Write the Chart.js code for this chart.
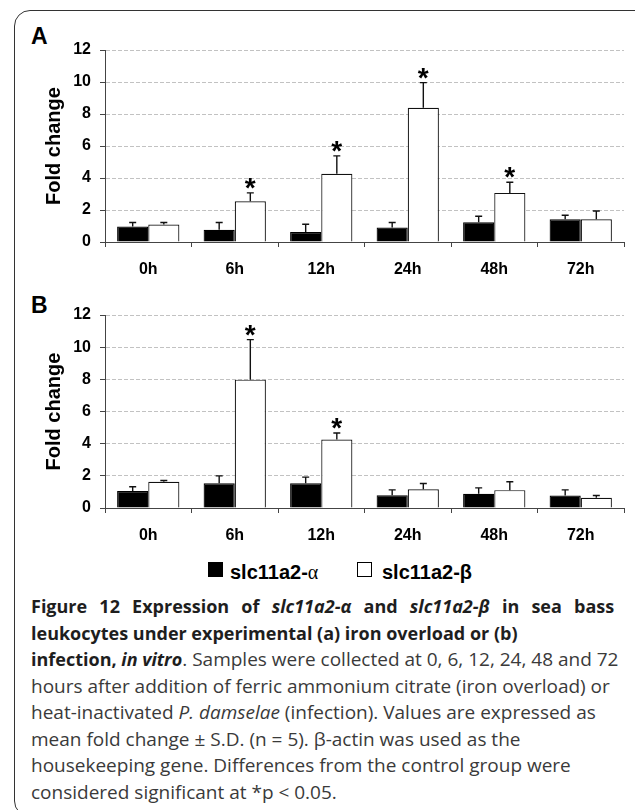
<!DOCTYPE html>
<html>
<head>
<meta charset="utf-8">
<script src="https://cdn.jsdelivr.net/npm/chart.js@4.4.1/dist/chart.umd.min.js"></script>
<style>
  body { margin: 0; background: #fff; width: 635px; height: 810px; overflow: hidden; position: relative; font-family: "Liberation Sans", Arial, sans-serif; }
  #frame { position: absolute; left: 14px; top: 10px; width: 700px; height: 805px; border: 1.5px solid #333; border-radius: 16px; }
  canvas { position: absolute; left: 0; }
  .tag { position: absolute; left: 31px; font: bold 23px "Liberation Sans", Arial, sans-serif; line-height: 22px; }
  .key { position: absolute; top: 562px; width: 15px; height: 15px; box-sizing: border-box; }
  .keytxt { position: absolute; top: 562px; font: bold 20px "Liberation Sans", Arial, sans-serif; line-height: 20px; white-space: nowrap; }
  .greek { font-family: "Liberation Serif", serif; font-weight: normal; }
  #caption { position: absolute; left: 31px; top: 593px; width: 620px; font: 19px "Open Sans", sans-serif; line-height: 26.5px; color: #3a3a3a; white-space: nowrap; }
  #caption b { color: #1e1e1e; font-size: 18px; }
  #caption .wide { word-spacing: 7.5px; }
</style>
</head>
<body>
<div id="frame"></div>
<div class="tag" style="top:25px">A</div>
<canvas id="chartA" width="635" height="285" style="top:0"></canvas>
<div class="tag" style="top:294px">B</div>
<canvas id="chartB" width="635" height="281" style="top:270px"></canvas>

<div class="key" style="left:208px;background:#000"></div>
<div class="keytxt" style="left:230px">slc11a2-<span class="greek">α</span></div>
<div class="key" style="left:357px;border:1px solid #000;background:#fff"></div>
<div class="keytxt" style="left:382px">slc11a2-β</div>

<div id="caption">
<b class="wide">Figure 12 Expression of <i>slc11a2-α</i> and <i>slc11a2-β</i> in sea bass</b><br>
<b>leukocytes under experimental (a) iron overload or (b)</b><br>
<b>infection, <i>in vitro</i></b>. Samples were collected at 0, 6, 12, 24, 48 and 72<br>
hours after addition of ferric ammonium citrate (iron overload) or<br>
heat-inactivated <i>P. damselae</i> (infection). Values are expressed as<br>
mean fold change ± S.D. (n = 5). β-actin was used as the<br>
housekeeping gene. Differences from the control group were<br>
considered significant at *p &lt; 0.05.
</div>

<script>
// sampling times
const hours = ['0h', '6h', '12h', '24h', '48h', '72h'];

// panel A - iron overload
const ironAlpha = [0.97, 0.76, 0.62, 0.91, 1.24, 1.42];
const ironAlphaSD = [0.25, 0.46, 0.49, 0.31, 0.37, 0.25];
const ironBeta = [1.09, 2.54, 4.27, 8.39, 3.07, 1.42];
const ironBetaSD = [0.13, 0.53, 1.11, 1.57, 0.66, 0.52];
const ironSig = [false, true, true, true, true, false];

// panel B - infection
const infAlpha = [1.05, 1.54, 1.54, 0.80, 0.88, 0.78];
const infAlphaSD = [0.27, 0.46, 0.38, 0.33, 0.37, 0.35];
const infBeta = [1.63, 7.98, 4.26, 1.17, 1.11, 0.63];
const infBetaSD = [0.08, 2.49, 0.40, 0.35, 0.52, 0.15];
const infSig = [false, true, true, false, false, false];

const yTicks = [0, 2, 4, 6, 8, 10, 12];

// whiskers (upper only) + significance stars
const errorBars = {
  id: 'errorBars',
  afterDatasetsDraw(chart) {
    const ctx = chart.ctx;
    const y = chart.scales.y;
    chart.data.datasets.forEach((ds, i) => {
      const meta = chart.getDatasetMeta(i);
      meta.data.forEach((bar, j) => {
        const top = y.getPixelForValue(ds.data[j] + ds.sd[j]);
        ctx.save();
        ctx.strokeStyle = '#111';
        ctx.lineWidth = 1.4;
        ctx.beginPath();
        ctx.moveTo(bar.x, bar.y);
        ctx.lineTo(bar.x, top);
        ctx.moveTo(bar.x - 3.5, top);
        ctx.lineTo(bar.x + 3.5, top);
        ctx.stroke();
        if (ds.sig && ds.sig[j]) {
          ctx.fillStyle = '#000';
          ctx.font = 'bold 28px "Liberation Sans", Arial, sans-serif';
          ctx.textAlign = 'center';
          ctx.textBaseline = 'alphabetic';
          ctx.fillText('*', bar.x, top + 4);
        }
        ctx.restore();
      });
    });
  }
};

function makeChart(id, alpha, alphaSD, beta, betaSD, sig, padTop) {
  const tickFont = { family: '"Liberation Sans", Arial, sans-serif', size: 16, weight: 'bold' };
  return new Chart(document.getElementById(id), {
    type: 'bar',
    data: {
      labels: hours,
      datasets: [
        { label: 'slc11a2-α', data: alpha, sd: alphaSD, backgroundColor: '#000', borderColor: '#000', borderWidth: 1.2, categoryPercentage: 0.72, barPercentage: 1 },
        { label: 'slc11a2-β', data: beta, sd: betaSD, sig: sig, backgroundColor: '#fff', borderColor: '#111', borderWidth: 1.2, categoryPercentage: 0.72, barPercentage: 1 }
      ]
    },
    options: {
      responsive: false,
      animation: false,
      devicePixelRatio: 1,
      layout: { padding: { left: 42, right: 11, top: padTop, bottom: 0 } },
      plugins: { legend: { display: false }, tooltip: { enabled: false } },
      scales: {
        x: {
          grid: { offset: true, drawOnChartArea: false, tickLength: 5, color: '#444' },
          border: { color: '#444' },
          ticks: { font: tickFont, color: '#000', padding: 13, maxRotation: 0 },
          afterFit(s) { s.height = 43; }
        },
        y: {
          min: 0, max: 12,
          afterBuildTicks(s) { s.ticks = yTicks.map(v => ({ value: v })); },
          ticks: { font: tickFont, color: '#000', padding: 9 },
          grid: { color: '#c2c2c2', tickColor: '#444', tickLength: 5, tickBorderDash: [] },
          border: { color: '#444', dash: [4, 2] },
          title: { display: true, text: 'Fold change', color: '#000', padding: 0,
                   font: { family: '"Liberation Sans", Arial, sans-serif', size: 20, weight: 'bold' } },
          afterFit(s) { s.width = 63; }
        }
      }
    },
    plugins: [errorBars]
  });
}

makeChart('chartA', ironAlpha, ironAlphaSD, ironBeta, ironBetaSD, ironSig, 50);
makeChart('chartB', infAlpha, infAlphaSD, infBeta, infBetaSD, infSig, 45);
</script>
</body>
</html>
